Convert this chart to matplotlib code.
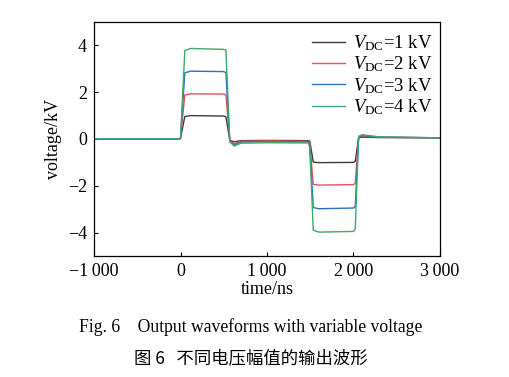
import matplotlib
matplotlib.use("Agg")
import matplotlib.pyplot as plt
from matplotlib.ticker import FuncFormatter

plt.rcParams['font.family'] = ['Liberation Serif', 'DejaVu Serif']
plt.rcParams['mathtext.fontset'] = 'custom'
plt.rcParams['mathtext.rm'] = 'Liberation Serif'
plt.rcParams['mathtext.it'] = 'Liberation Serif:italic'

# breakpoints (time in ns, voltage in kV)
time_ns = [-1000, -10, 0, 50, 120, 500, 525, 570, 620, 700, 1000, 1480,
           1495, 1535, 1600, 2000, 2020, 2060, 2100, 2300, 3000]
v_1kv = [0, 0, 0.02, 0.96, 1.0, 0.98, 0.95, -0.05, -0.12, -0.07, -0.06, -0.07,
         -0.1, -0.99, -1.01, -1.0, -0.95, 0.05, 0.08, 0.06, 0.05]
v_2kv = [0, 0, 0.03, 1.88, 1.93, 1.92, 1.88, -0.08, -0.2, -0.1, -0.08, -0.1,
         -0.2, -1.94, -1.97, -1.95, -1.9, 0.08, 0.12, 0.08, 0.05]
v_3kv = [0, 0, 0.04, 2.83, 2.9, 2.88, 2.84, -0.1, -0.25, -0.13, -0.12, -0.13,
         -0.3, -2.93, -2.98, -2.95, -2.88, 0.1, 0.15, 0.08, 0.05]
v_4kv = [0, 0, 0.05, 3.78, 3.87, 3.83, 3.8, -0.12, -0.3, -0.18, -0.16, -0.17,
         -0.4, -3.9, -3.98, -3.95, -3.85, 0.12, 0.18, 0.09, 0.05]

labels = [r'$\mathit{V}_{\rm DC}$=1 kV', r'$\mathit{V}_{\rm DC}$=2 kV',
          r'$\mathit{V}_{\rm DC}$=3 kV', r'$\mathit{V}_{\rm DC}$=4 kV']
colors = ['#3a3a3a', '#e8505a', '#2d6ebf', '#3caa6a']
series = [v_1kv, v_2kv, v_3kv, v_4kv]

xticks = [-1000, 0, 1000, 2000, 3000]
yticks = [-4, -2, 0, 2, 4]

FS = 13

fig = plt.figure(figsize=(5.09, 3.77), dpi=100)
ax = fig.add_axes([0.1847, 0.321, 0.6797, 0.6206])

for vals, c, lab in zip(series, colors, labels):
    ax.plot(time_ns, vals, color=c, lw=1.0, label=lab)

ax.set_xlim(-1000, 3000)
ax.set_ylim(-5, 5)
ax.set_xticks(xticks)
ax.set_yticks(yticks)

def fmt_x(v, pos):
    v = int(round(v))
    s = f"{abs(v):,}".replace(",", "\u2009")
    return ("\u2212" if v < 0 else "") + s

def fmt_y(v, pos):
    v = int(round(v))
    return ("\u2212" if v < 0 else "") + str(abs(v))

ax.xaxis.set_major_formatter(FuncFormatter(fmt_x))
ax.yaxis.set_major_formatter(FuncFormatter(fmt_y))
ax.tick_params(direction='in', length=3, width=0.8, labelsize=FS,
               top=False, right=False)
ax.tick_params(axis='x', pad=5)
ax.tick_params(axis='y', pad=5)
for s in ax.spines.values():
    s.set_linewidth(0.9)

ax.set_xlabel('time/ns', fontsize=FS, labelpad=1)
ax.set_ylabel('voltage/kV', fontsize=FS, labelpad=4)

leg = ax.legend(loc='upper right', frameon=False, fontsize=13.5,
                handlelength=1.75, handletextpad=0.45, labelspacing=0.08,
                borderaxespad=0.05, borderpad=0.35, bbox_to_anchor=(1.0, 0.983))

fig.text(0.492, 0.133, 'Fig. 6    Output waveforms with variable voltage',
         ha='center', va='center', fontsize=12.7)
fig.text(0.492, 0.05, '图 6   不同电压幅值的输出波形', ha='center', va='center',
         fontsize=12.5, family=['Noto Sans CJK SC', 'DejaVu Sans'])

fig.savefig('out.png', dpi=100)
